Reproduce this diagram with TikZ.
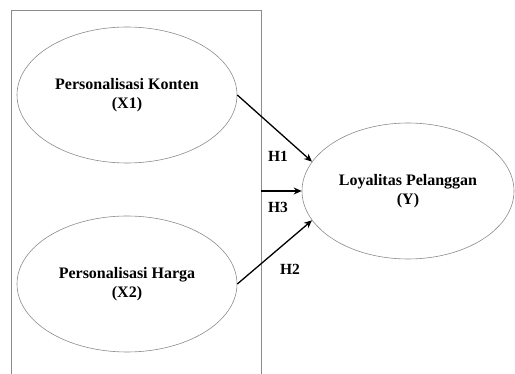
\documentclass[tikz,border=0pt]{standalone}
\usepackage{fontspec}
\setmainfont{Liberation Serif}
\usetikzlibrary{shapes.geometric,arrows.meta}
\begin{document}
\begin{tikzpicture}[x=1pt,y=-1pt,
  var/.style={draw=black!45, line width=0.6pt, ellipse, inner sep=0pt, align=center,
    font=\fontsize{16}{19}\selectfont\bfseries},
  hyp/.style={line width=1.3pt, -{Stealth[length=8pt,width=7pt]}},
  lab/.style={font=\fontsize{15.5}{18}\selectfont\bfseries, inner sep=0pt}]
\useasboundingbox (0,0) rectangle (515,374);
\draw[draw=black!45, line width=0.7pt] (11,380) -- (11,10) -- (261,10) -- (261,380);
\node[var, minimum width=220pt, minimum height=136pt] (X1) at (127,95) {Personalisasi Konten\\(X1)};
\node[var, minimum width=220pt, minimum height=136pt] (X2) at (127,284) {Personalisasi Harga\\(X2)};
\node[var, minimum width=212pt, minimum height=136pt] (Y) at (408,191) {Loyalitas Pelanggan\\(Y)};
\coordinate (B) at (261,191);
\draw[hyp] (X1.east) -- (Y.163);
\draw[hyp] (X2.east) -- (Y.197);
\draw[hyp] (B) -- (Y.west);
\node[lab] (h1) at (278,156) {H1};
\node[lab] (h3) at (278,207) {H3};
\node[lab] (h2) at (290,269) {H2};
\end{tikzpicture}
\end{document}
